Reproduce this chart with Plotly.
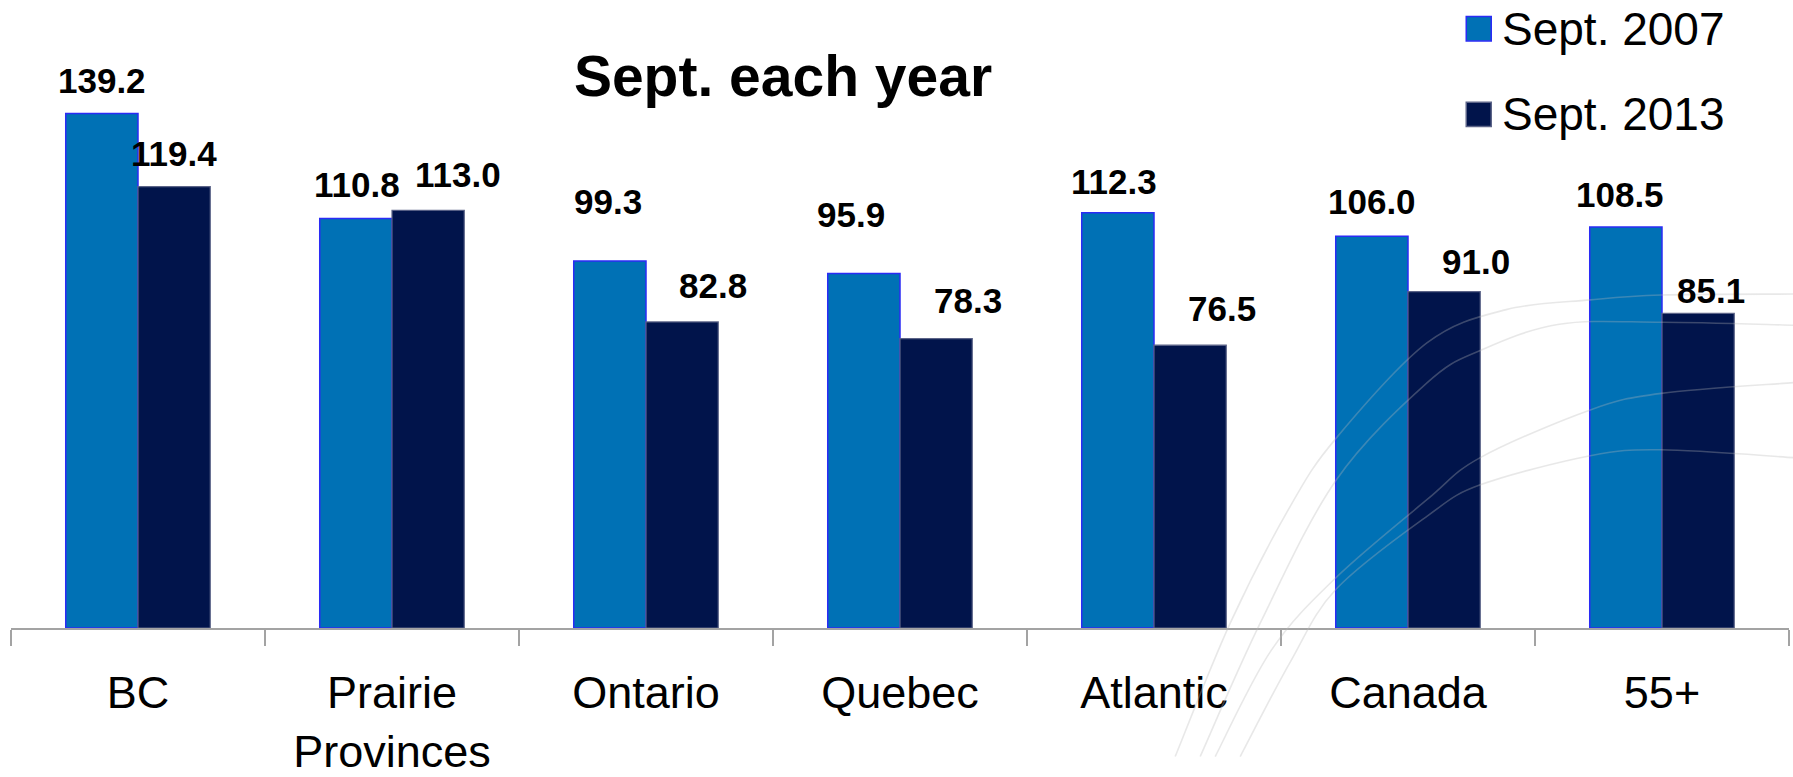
import plotly.graph_objects as go

# ---- data ----
regions = ["BC", "Prairie<br>Provinces", "Ontario", "Quebec", "Atlantic", "Canada", "55+"]
sept_2007 = [139.2, 110.8, 99.3, 95.9, 112.3, 106.0, 108.5]
sept_2013 = [119.4, 113.0, 82.8, 78.3, 76.5, 91.0, 85.1]
series_names = ["Sept. 2007", "Sept. 2013"]
chart_title = "Sept. each year"

# ---- styling ----
FONT = "Liberation Sans, Arial, sans-serif"
C_2007 = "#0071B5"
C_2007_EDGE = "#2B2BF5"
C_2013 = "#01144B"
C_2013_EDGE = "#5C6488"
AXIS_GREY = "#A3A3A3"

W, H = 1793, 777
M_L, M_R, M_T, M_B = 11, 4.3, 0, 132
PLOT_W = W - M_L - M_R
PLOT_H = H - M_T - M_B
PX_PER_UNIT = 3.797
Y_MAX = PLOT_H / PX_PER_UNIT


def paper_x(px):
    return (px - M_L) / PLOT_W


def paper_y(py):
    return 1 - (py - M_T) / PLOT_H


def smooth_path(points):
    """Catmull-Rom curve through pixel points, as an SVG path in paper units."""
    pts = [(paper_x(x), paper_y(y)) for x, y in points]
    d = f"M{pts[0][0]:.5f},{pts[0][1]:.5f}"
    for i in range(len(pts) - 1):
        p0 = pts[i - 1] if i > 0 else pts[i]
        p1, p2 = pts[i], pts[i + 1]
        p3 = pts[i + 2] if i + 2 < len(pts) else p2
        c1 = (p1[0] + (p2[0] - p0[0]) / 6, p1[1] + (p2[1] - p0[1]) / 6)
        c2 = (p2[0] - (p3[0] - p1[0]) / 6, p2[1] - (p3[1] - p1[1]) / 6)
        d += (f" C{c1[0]:.5f},{c1[1]:.5f} {c2[0]:.5f},{c2[1]:.5f}"
              f" {p2[0]:.5f},{p2[1]:.5f}")
    return d


fig = go.Figure()
fig.add_trace(go.Bar(
    x=regions, y=sept_2007, name=series_names[0],
    marker=dict(color=C_2007, line=dict(color=C_2007_EDGE, width=1.5)),
    showlegend=False, hoverinfo="x+y",
))
fig.add_trace(go.Bar(
    x=regions, y=sept_2013, name=series_names[1],
    marker=dict(color=C_2013, line=dict(color=C_2013_EDGE, width=1.2)),
    showlegend=False, hoverinfo="x+y",
))

# value labels: (horizontal nudge, lift above bar top) in px
HALF_BAR = 36
label_nudge_2007 = [(0, 33), (1, 34), (-2, 59), (-13, 59), (-4, 31), (0, 35), (-6, 32)]
label_nudge_2013 = [(0, 33), (30, 36), (31, 36), (32, 38), (32, 37), (32, 30), (13, 23)]

annotations = []
for series, nudges, side in ((sept_2007, label_nudge_2007, -1), (sept_2013, label_nudge_2013, 1)):
    for cat, val, (dx, dy) in zip(regions, series, nudges):
        annotations.append(dict(
            x=cat, y=val, xref="x", yref="y", text=f"{val:.1f}",
            showarrow=False, xanchor="center", yanchor="middle",
            xshift=side * HALF_BAR + dx, yshift=dy,
            font=dict(family=FONT, size=35, color="black", weight="bold"),
        ))

shapes = []

# faint decorative swooshes in the lower right
swooshes = [
    [(1175, 777), (1230, 640), (1290, 520), (1336, 450), (1427, 352), (1506, 318),
     (1590, 308), (1661, 303), (1793, 302)],
    [(1200, 777), (1260, 640), (1336, 493), (1427, 393), (1480, 360), (1559, 333),
     (1661, 331), (1793, 334)],
    [(1215, 777), (1271, 668), (1336, 593), (1427, 513), (1480, 470), (1590, 421),
     (1661, 404), (1793, 393)],
    [(1240, 777), (1290, 680), (1336, 605), (1427, 530), (1480, 498), (1590, 468),
     (1661, 462), (1793, 470)],
]
for pts in swooshes:
    shapes.append(dict(
        type="path", xref="paper", yref="paper", path=smooth_path(pts),
        line=dict(color="rgba(185,185,185,0.32)", width=1.6), layer="above",
    ))

# legend drawn as swatches plus text
legend_rows = [(29.5, C_2007, C_2007_EDGE), (117.5, C_2013, C_2013_EDGE)]
for name, (cy, fill, edge) in zip(series_names, legend_rows):
    shapes.append(dict(
        type="rect", xref="paper", yref="paper",
        x0=paper_x(1466), x1=paper_x(1491),
        y0=paper_y(cy - 12.5), y1=paper_y(cy + 12.5),
        fillcolor=fill, line=dict(color=edge, width=1.5),
    ))
    annotations.append(dict(
        x=paper_x(1500), y=paper_y(cy), xref="paper", yref="paper",
        text=name, showarrow=False, xanchor="left", yanchor="middle",
        font=dict(family=FONT, size=46, color="black"),
    ))

fig.update_layout(
    width=W, height=H,
    margin=dict(l=M_L, r=M_R, t=M_T, b=M_B, pad=0),
    paper_bgcolor="white", plot_bgcolor="white",
    barmode="group", bargap=0.431, bargroupgap=0,
    title=dict(
        text=chart_title, xref="container", yref="container",
        x=783 / W, y=1 - 76 / H, xanchor="center", yanchor="middle",
        font=dict(family=FONT, size=57, color="black", weight="bold"),
    ),
    xaxis=dict(
        type="category", range=[-0.5, len(regions) - 0.5],
        showline=True, linecolor=AXIS_GREY, linewidth=2,
        ticks="outside", tickson="boundaries", ticklen=16,
        tickcolor=AXIS_GREY, tickwidth=2,
        tickfont=dict(family=FONT, size=45, color="black"),
        ticklabelstandoff=24, showgrid=False, zeroline=False,
    ),
    yaxis=dict(
        range=[0, Y_MAX], visible=False, showgrid=False, zeroline=False,
    ),
    annotations=annotations,
    shapes=shapes,
    showlegend=False,
)

fig.write_html("out.html")
